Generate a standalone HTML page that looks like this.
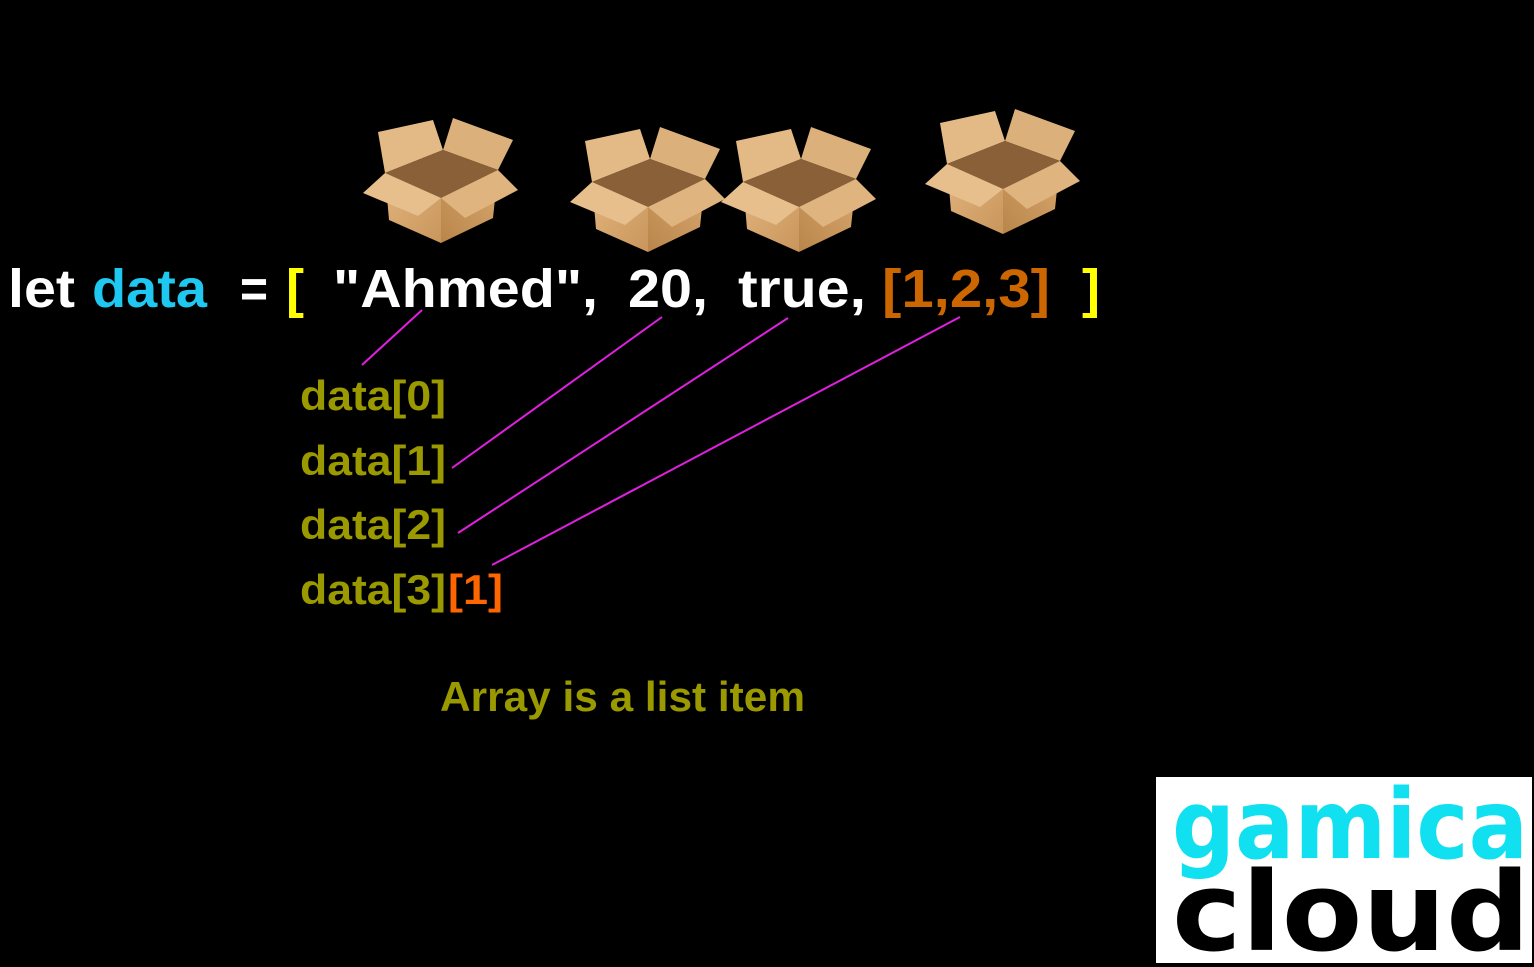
<!DOCTYPE html>
<html><head><meta charset="utf-8"><style>
html,body{margin:0;padding:0;background:#000;}
svg{display:block}
text{font-family:"Liberation Sans",sans-serif;font-weight:bold;}
</style></head><body>
<svg width="1534" height="967" viewBox="0 0 1534 967" xmlns="http://www.w3.org/2000/svg">
<rect width="1534" height="967" fill="#000"/>
<defs>
<linearGradient id="bl" x1="0" y1="0" x2="1" y2="1"><stop offset="0" stop-color="#e2b57f"/><stop offset="1" stop-color="#c9965c"/></linearGradient>
<linearGradient id="br" x1="1" y1="0" x2="0" y2="1"><stop offset="0" stop-color="#d9a96f"/><stop offset="1" stop-color="#b9854b"/></linearGradient>
<g id="box">
<polygon points="15,14 70,2 80,32 22,55" fill="#e3ba86"/>
<polygon points="90,0 150,22 135,52 80,32" fill="#dcb07a"/>
<polygon points="22,55 80,32 135,52 78,80" fill="#8a6038"/>
<polygon points="22,55 78,80 78,125 26,102" fill="url(#bl)"/>
<polygon points="78,80 135,52 130,100 78,125" fill="url(#br)"/>
<polygon points="0,75 22,55 78,80 55,98" fill="#e6bf8c"/>
<polygon points="78,80 135,52 155,72 102,100" fill="#dfb47f"/>
</g>
</defs>
<use href="#box" x="363" y="118"/>
<use href="#box" x="570" y="127"/>
<use href="#box" x="721" y="127"/>
<use href="#box" x="925" y="109"/>

<g font-size="54">
<text x="8" y="307" fill="#fff" textLength="67" lengthAdjust="spacingAndGlyphs">let</text>
<text x="92" y="307" fill="#1ec8f0" textLength="115" lengthAdjust="spacingAndGlyphs">data</text>
<text x="240" y="307" fill="#fff" textLength="28" lengthAdjust="spacingAndGlyphs">=</text>
<text x="286" y="307" fill="#ffff00" textLength="18" lengthAdjust="spacingAndGlyphs">[</text>
<text x="333" y="307" fill="#fff" textLength="265" lengthAdjust="spacingAndGlyphs">"Ahmed",</text>
<text x="628" y="307" fill="#fff" textLength="80" lengthAdjust="spacingAndGlyphs">20,</text>
<text x="738" y="307" fill="#fff" textLength="128" lengthAdjust="spacingAndGlyphs">true,</text>
<text x="882" y="307" fill="#cc6600" textLength="168" lengthAdjust="spacingAndGlyphs">[1,2,3]</text>
<text x="1082" y="307" fill="#ffff00" textLength="18" lengthAdjust="spacingAndGlyphs">]</text>
</g>

<g stroke="#e020e0" stroke-width="2">
<line x1="422" y1="310" x2="362" y2="365"/>
<line x1="662" y1="317" x2="452" y2="468"/>
<line x1="788" y1="318" x2="458" y2="533"/>
<line x1="960" y1="317" x2="492" y2="565"/>
</g>

<g font-size="42" fill="#9a9a00">
<text x="300" y="410" textLength="146" lengthAdjust="spacingAndGlyphs">data[0]</text>
<text x="300" y="475" textLength="146" lengthAdjust="spacingAndGlyphs">data[1]</text>
<text x="300" y="539" textLength="146" lengthAdjust="spacingAndGlyphs">data[2]</text>
<text x="300" y="604" textLength="146" lengthAdjust="spacingAndGlyphs">data[3]</text>
<text x="448" y="604" fill="#ff6600" textLength="55" lengthAdjust="spacingAndGlyphs">[1]</text>
<text x="440" y="711" textLength="365" lengthAdjust="spacingAndGlyphs">Array is a list item</text>
</g>

<rect x="1156" y="777" width="376" height="186" fill="#fff"/>
<text x="1172" y="858" font-size="96" fill="#10e0f0" textLength="356" lengthAdjust="spacingAndGlyphs" style="font-family:'DejaVu Sans',sans-serif;font-weight:bold">gamica</text>
<text x="1172" y="950" font-size="110" fill="#000" textLength="358" lengthAdjust="spacingAndGlyphs" style="font-family:'DejaVu Sans',sans-serif;font-weight:bold">cloud</text>
</svg>
</body></html>
